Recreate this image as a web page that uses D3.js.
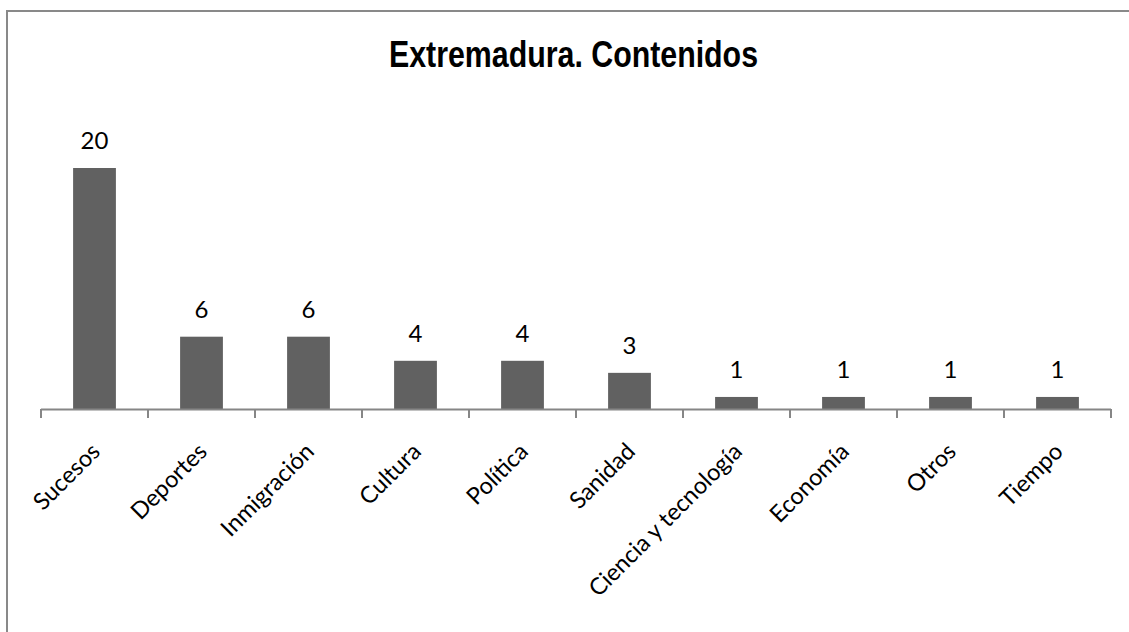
<!DOCTYPE html>
<html>
<head>
<meta charset="utf-8">
<script src="https://cdn.jsdelivr.net/npm/d3@7"></script>
<style>
  html, body { margin: 0; padding: 0; background: #fff; }
  svg { display: block; }
</style>
</head>
<body>
<svg id="chart" width="1129" height="632"></svg>
<script>
const title = "Extremadura. Contenidos";
const categories = ["Sucesos", "Deportes", "Inmigración", "Cultura", "Política", "Sanidad", "Ciencia y tecnología", "Economía", "Otros", "Tiempo"];
const values = [20, 6, 6, 4, 4, 3, 1, 1, 1, 1];

const svg = d3.select("#chart");

// outer chart border (extends beyond the visible window on right/bottom)
svg.append("rect")
  .attr("x", 7).attr("y", 11)
  .attr("width", 1140).attr("height", 640)
  .attr("fill", "#fff")
  .attr("stroke", "#898989")
  .attr("stroke-width", 2);

const x = d3.scaleBand()
  .domain(categories)
  .range([41, 1111])
  .paddingInner(0.6)
  .paddingOuter(0.3);

const y = d3.scaleLinear()
  .domain([0, 20])
  .range([409, 168]);

// title (narrow bold look)
svg.append("text")
  .attr("x", 573.5)
  .attr("y", 67)
  .attr("text-anchor", "middle")
  .attr("textLength", 369)
  .attr("lengthAdjust", "spacingAndGlyphs")
  .style("font-family", "'Liberation Sans Narrow', 'Liberation Sans', Arial, sans-serif")
  .style("font-weight", "bold")
  .style("font-size", "36px")
  .attr("fill", "#000")
  .text(title);

// bars
svg.append("g").selectAll("rect")
  .data(values)
  .join("rect")
  .attr("x", (d, i) => x(categories[i]))
  .attr("y", d => y(d))
  .attr("width", x.bandwidth())
  .attr("height", d => y(0) - y(d))
  .attr("fill", "#616161");

// value labels
svg.append("g").selectAll("text")
  .data(values)
  .join("text")
  .attr("x", (d, i) => x(categories[i]) + x.bandwidth() / 2)
  .attr("y", d => y(d) - 19)
  .attr("text-anchor", "middle")
  .style("font-family", "Lato, 'Open Sans', sans-serif")
  .style("font-size", "24px")
  .attr("fill", "#000")
  .text(d => d);

// x axis: line + ticks at category boundaries
const step = x.step();
const x0 = 41;
const axis = svg.append("g");
axis.append("line")
  .attr("x1", x0).attr("x2", x0 + step * categories.length)
  .attr("y1", y(0) + 0.5).attr("y2", y(0) + 0.5)
  .attr("stroke", "#868686").attr("stroke-width", 2);
axis.selectAll("line.tick")
  .data(d3.range(categories.length + 1))
  .join("line")
  .attr("class", "tick")
  .attr("x1", i => x0 + i * step).attr("x2", i => x0 + i * step)
  .attr("y1", y(0)).attr("y2", y(0) + 9)
  .attr("stroke", "#868686").attr("stroke-width", 2);

// category labels, rotated -45
svg.append("g").selectAll("text")
  .data(categories)
  .join("text")
  .attr("transform", d => `translate(${x(d) + x.bandwidth() / 2 + 7},${453}) rotate(-45)`)
  .attr("text-anchor", "end")
  .style("font-family", "Lato, 'Open Sans', sans-serif")
  .style("font-size", "23.5px")
  .attr("fill", "#000")
  .text(d => d);
</script>
</body>
</html>
